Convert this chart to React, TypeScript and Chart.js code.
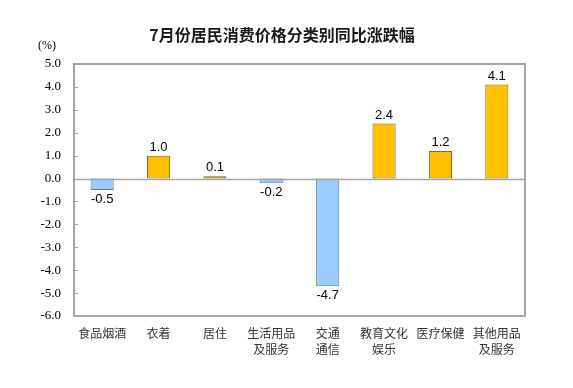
import React, { useEffect, useRef } from "react";
import { Chart, registerables } from "chart.js";

Chart.register(...registerables);

const TITLE = "7月份居民消费价格分类别同比涨跌幅";
const UNIT = "(%)";
const categories: string[][] = [
  ["食品烟酒"],
  ["衣着"],
  ["居住"],
  ["生活用品", "及服务"],
  ["交通", "通信"],
  ["教育文化", "娱乐"],
  ["医疗保健"],
  ["其他用品", "及服务"],
];
const values: number[] = [-0.5, 1.0, 0.1, -0.2, -4.7, 2.4, 1.2, 4.1];
const Y_MIN = -6;
const Y_MAX = 5;
const Y_STEP = 1;

const POS_COLOR = "#FFC000";
const NEG_COLOR = "#99CCFF";
const POS_BORDER = "#7F6A1E";
const NEG_BORDER = "#6A7A8A";
const FRAME = "#A6A6A6";

export default function App() {
  const ref = useRef<HTMLCanvasElement | null>(null);
  useEffect(() => {
    document.body.style.margin = "0";
    const canvas = ref.current!;
    const overlay = {
      id: "overlay",
      afterDatasetsDraw(chart: any) {
        const { ctx, chartArea, scales } = chart;
        const y = scales.y;
        ctx.save();
        ctx.strokeStyle = FRAME;
        ctx.lineWidth = 2;
        ctx.strokeRect(chartArea.left, chartArea.top, chartArea.right - chartArea.left, chartArea.bottom - chartArea.top);
        const y0 = Math.round(y.getPixelForValue(0)) + 0.5;
        ctx.lineWidth = 1.5;
        ctx.beginPath();
        ctx.moveTo(chartArea.left, y0);
        ctx.lineTo(chartArea.right, y0);
        ctx.stroke();
        ctx.lineWidth = 1;
        for (let v = Y_MIN; v <= Y_MAX; v += Y_STEP) {
          const py = Math.round(y.getPixelForValue(v)) + 0.5;
          ctx.beginPath();
          ctx.moveTo(chartArea.left, py);
          ctx.lineTo(chartArea.left + 4, py);
          ctx.stroke();
        }
        const meta = chart.getDatasetMeta(0);
        ctx.fillStyle = "#000";
        ctx.font = "13px 'Liberation Sans', Arial, sans-serif";
        ctx.textAlign = "center";
        meta.data.forEach((bar: any, i: number) => {
          const v = values[i];
          if (v >= 0) {
            ctx.textBaseline = "bottom";
            ctx.fillText(v.toFixed(1), bar.x, bar.y - 2);
          } else {
            ctx.textBaseline = "top";
            ctx.fillText(v.toFixed(1), bar.x, bar.y + 3);
          }
        });
        ctx.font = "bold 16px 'Noto Sans CJK SC', sans-serif";
        ctx.textBaseline = "middle";
        ctx.fillStyle = "#1a1a1a";
        ctx.fillText(TITLE, 282, 35);
        ctx.font = "12px 'Liberation Serif', 'Times New Roman', serif";
        ctx.fillStyle = "#000";
        ctx.fillText(UNIT, 47, 46);
        ctx.restore();
      },
    };
    const chart = new Chart(canvas, {
      type: "bar",
      data: {
        labels: categories,
        datasets: [
          {
            data: values,
            backgroundColor: values.map((v) => (v >= 0 ? POS_COLOR : NEG_COLOR)),
            borderColor: values.map((v) => (v >= 0 ? POS_BORDER : NEG_BORDER)),
            borderWidth: 1,
            borderSkipped: false,
            barPercentage: 0.41,
            categoryPercentage: 1,
          },
        ],
      },
      options: {
        animation: false,
        responsive: false,
        maintainAspectRatio: false,
        layout: { padding: { top: 64, right: 48, bottom: 0, left: 0 } },
        plugins: { legend: { display: false }, tooltip: { enabled: false }, title: { display: false } },
        scales: {
          x: {
            grid: { display: false, drawTicks: false },
            border: { display: false },
            ticks: {
              color: "#333",
              font: { family: "'Noto Sans CJK SC', sans-serif", size: 12, lineHeight: 1.35 },
              padding: 9,
              maxRotation: 0,
              autoSkip: false,
            },
            afterFit(scale: any) {
              scale.height = 72;
            },
          },
          y: {
            min: Y_MIN,
            max: Y_MAX,
            grid: { display: false, drawTicks: false },
            border: { display: false },
            ticks: {
              stepSize: Y_STEP,
              color: "#000",
              font: { family: "'Liberation Serif', 'Times New Roman', serif", size: 13 },
              padding: 13,
              callback: (v: any) => Number(v).toFixed(1),
            },
            afterFit(scale: any) {
              scale.width = 74;
            },
          },
        },
      },
      plugins: [overlay],
    });
    return () => chart.destroy();
  }, []);
  return (
    <div style={{ position: "fixed", left: 0, top: 0, width: 573, height: 388, background: "#fff" }}>
      <canvas ref={ref} width={573} height={388} />
    </div>
  );
}
